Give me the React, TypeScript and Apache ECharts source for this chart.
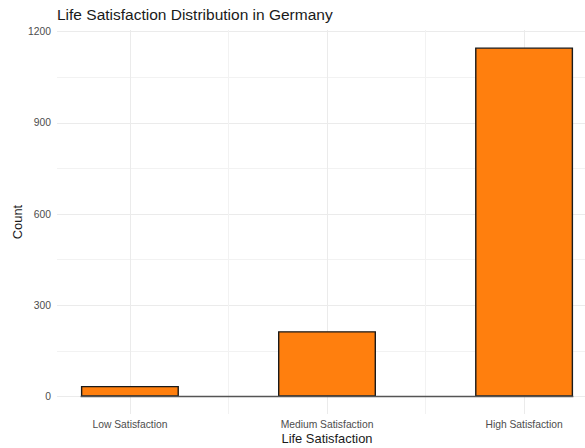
import React, { useEffect, useRef } from "react";
import * as echarts from "echarts";

const categories = ["Low Satisfaction", "Medium Satisfaction", "High Satisfaction"];
const counts = [35, 215, 1148];
const positions = [1, 2, 3];
const barHalfWidth = 0.25;

const FONT = "Liberation Sans, Arial, sans-serif";

export default function App() {
  const ref = useRef<HTMLDivElement>(null);
  useEffect(() => {
    if (!ref.current) return;
    const chart = echarts.init(ref.current, null, { renderer: "svg" });
    const maxCount = Math.max(...counts);
    chart.setOption({
      animation: false,
      textStyle: { fontFamily: FONT },
      title: {
        text: "Life Satisfaction Distribution in Germany",
        left: 57,
        top: 6,
        padding: 0,
        textStyle: { fontSize: 15.5, fontWeight: "normal", color: "#1a1a1a", fontFamily: FONT },
      },
      grid: { left: 57, width: 540, top: 30, height: 384, containLabel: false, outerBoundsMode: "none" },
      xAxis: {
        type: "value",
        min: 0.63,
        max: 3.37,
        splitNumber: 3,
        name: "Life Satisfaction",
        nameLocation: "middle",
        nameGap: 18,
        nameMoveOverlap: false,
        nameTextStyle: { fontSize: 12.9, color: "#1a1a1a", fontFamily: FONT },
        axisLine: { show: false, onZero: false },
        axisTick: { show: false },
        axisLabel: {
          margin: 5,
          fontSize: 10.3,
          color: "#4d4d4d",
          fontFamily: FONT,
          showMinLabel: false,
          showMaxLabel: false,
          formatter: (v: number) => {
            const idx = positions.indexOf(Math.round(v * 1000) / 1000);
            return idx >= 0 ? categories[idx] : "";
          },
        },
        splitLine: { show: true, showMinLine: false, showMaxLine: false, lineStyle: { color: "#ebebeb", width: 1 } },
        minorTick: { show: false, splitNumber: 2 },
        minorSplitLine: { show: true, lineStyle: { color: "#f2f2f2", width: 1 } },
      },
      yAxis: {
        type: "value",
        min: -0.05 * maxCount,
        max: 1.05 * maxCount,
        splitNumber: 4,
        name: "Count",
        nameLocation: "middle",
        nameGap: 33,
        nameRotate: 90,
        nameMoveOverlap: false,
        nameTextStyle: { fontSize: 12.9, color: "#1a1a1a", fontFamily: FONT },
        axisLine: { show: false },
        axisTick: { show: false },
        axisLabel: {
          margin: 6,
          fontSize: 10.3,
          color: "#4d4d4d",
          fontFamily: FONT,
          showMinLabel: false,
          showMaxLabel: false,
          formatter: (v: number) => (Math.abs(v % 300) < 1e-6 ? String(Math.round(v)) : ""),
        },
        splitLine: { show: true, showMinLine: false, showMaxLine: false, lineStyle: { color: "#ebebeb", width: 1 } },
        minorTick: { show: false, splitNumber: 2 },
        minorSplitLine: { show: true, lineStyle: { color: "#f2f2f2", width: 1 } },
      },
      series: [
        {
          type: "bar",
          data: counts.map((c, i) => [positions[i], c]),
          barWidth: 98,
          itemStyle: { color: "#FF7F0E", borderColor: "#1a1a1a", borderWidth: 1.4 },
          markLine: {
            silent: true,
            symbol: "none",
            label: { show: false },
            lineStyle: { color: "#555555", width: 1.3, type: "solid" },
            data: [
              [
                { coord: [positions[0] - barHalfWidth, 0] },
                { coord: [positions[positions.length - 1] + barHalfWidth, 0] },
              ],
            ],
          },
        },
      ],
    });
    return () => chart.dispose();
  }, []);
  return (
    <div
      ref={ref}
      style={{ position: "absolute", left: 0, top: 0, width: 585, height: 448, background: "#fff" }}
    />
  );
}
